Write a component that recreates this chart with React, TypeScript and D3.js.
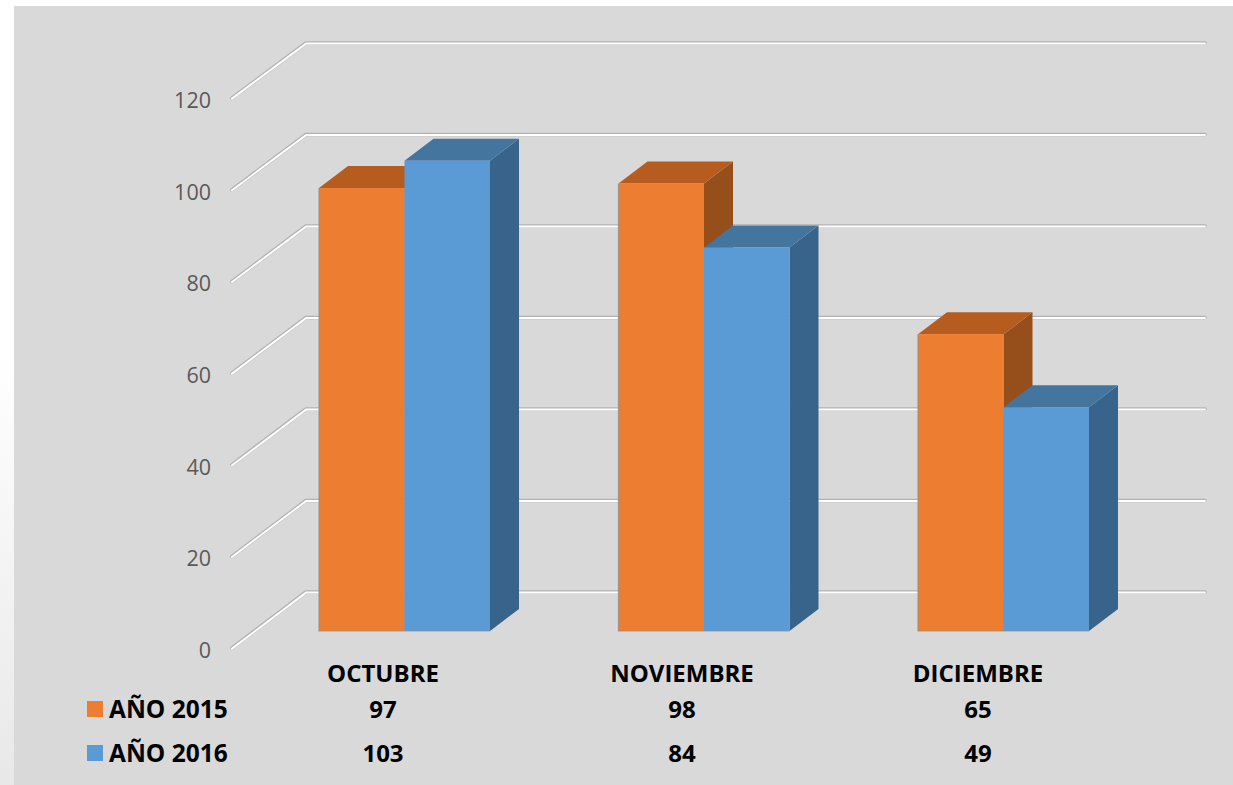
import React from "react";
import * as d3 from "d3";

const categories = ["OCTUBRE", "NOVIEMBRE", "DICIEMBRE"];
const seriesNames = ["AÑO 2015", "AÑO 2016"];
const values2015 = [97, 98, 65];
const values2016 = [103, 84, 49];
const yTicks = [0, 20, 40, 60, 80, 100, 120];
const labelCenters = [383, 682, 978];

const W = 1233, H = 785;
const FONT = "'Open Sans', 'Noto Sans', sans-serif";

const yFront = d3.scaleLinear().domain([0, 120]).range([631, 83]);
const yBack = d3.scaleLinear().domain([0, 120]).range([592, 43]);
const yAxis = d3.scaleLinear().domain([0, 120]).range([648, 98]);
const xCat = d3.scaleBand<string>().domain(categories).range([319, 1089]).paddingInner(0.429);
const xSer = d3.scaleBand<string>().domain(seriesNames).range([0, xCat.bandwidth()]);
const DX = 29, DY = -22;

const palettes = [
  { front: "#ed7d31", top: "#b65c1e", side: "#964e1b" },
  { front: "#5b9bd5", top: "#44759f", side: "#38638a" },
];
const seriesValues = [values2015, values2016];

export default function App() {
  const line = d3.line();
  const poly = (p: [number, number][]) => line(p) + "Z";
  return (
    <svg width={W} height={H} style={{ position: "fixed", left: 0, top: 0 }} fontFamily={FONT}>
      <defs>
        <linearGradient id="edgeV" x1="0" y1="0" x2="0" y2="1">
          <stop offset="0" stopColor="#ffffff" />
          <stop offset="0.45" stopColor="#ffffff" />
          <stop offset="1" stopColor="#e8e8e8" />
        </linearGradient>
      </defs>
      <rect width={W} height={H} fill="#fff" />
      <rect x={0} y={0} width={14} height={H} fill="url(#edgeV)" />
      <rect x={14} y={6} width={W - 14} height={H - 6} fill="#d9d9d9" />

      {yTicks.map((t) => {
        const pts: [number, number][] = [[232, yAxis(t)], [306, yBack(t)], [1205, yBack(t)]];
        return (
          <g key={t} fill="none" strokeLinejoin="round" strokeLinecap="round">
            <path d={line(pts)!} stroke="#b2b2b2" strokeWidth={3.6} />
            <path d={line(pts)!} stroke="#ffffff" strokeWidth={2} transform="translate(0,0.6)" />
            <text
              x={211} y={yAxis(t) + 1.5} fill="#595959" stroke="none" fontSize={21.5}
              textAnchor="end" dominantBaseline="central"
            >
              {t}
            </text>
          </g>
        );
      })}

      {categories.map((c, ci) => (
        <g key={c}>
          {seriesNames.map((s, si) => {
            const v = seriesValues[si][ci];
            const x0 = xCat(c)! + xSer(s)!;
            const x1 = x0 + xSer.bandwidth();
            const yT = yFront(v), yB = yFront(0);
            const p = palettes[si];
            return (
              <g key={s}>
                <path d={poly([[x1, yT], [x1 + DX, yT + DY], [x1 + DX, yB + DY], [x1, yB]])} fill={p.side} />
                <path d={poly([[x0, yT], [x0 + DX, yT + DY], [x1 + DX, yT + DY], [x1, yT]])} fill={p.top} />
                <rect x={x0} y={yT} width={x1 - x0} height={yB - yT} fill={p.front} />
              </g>
            );
          })}
          <path
            d={`M${xCat(c)},${yFront(seriesValues[0][ci])}V${yFront(0)}H${xCat(c)! + xCat.bandwidth()}`}
            fill="none" stroke="#8f8f8f" strokeOpacity={0.8} strokeWidth={1.2}
          />
        </g>
      ))}

      <g fontWeight={700} fill="#000" fontSize={24} textAnchor="middle" dominantBaseline="central">
        {categories.map((c, i) => (
          <text key={c} x={labelCenters[i]} y={672}>{c}</text>
        ))}
        {seriesValues.map((vals, si) =>
          vals.map((v, i) => (
            <text key={i} x={labelCenters[i]} y={si === 0 ? 708.5 : 752}>{v}</text>
          ))
        )}
      </g>

      {seriesNames.map((s, si) => {
        const y = si === 0 ? 709 : 753;
        return (
          <g key={s}>
            <rect x={87} y={y - 8} width={16} height={16} fill={palettes[si].front} />
            <text x={109} y={y - 0.5} fontWeight={700} fontSize={24.5} fill="#000" dominantBaseline="central">{s}</text>
          </g>
        );
      })}
    </svg>
  );
}
